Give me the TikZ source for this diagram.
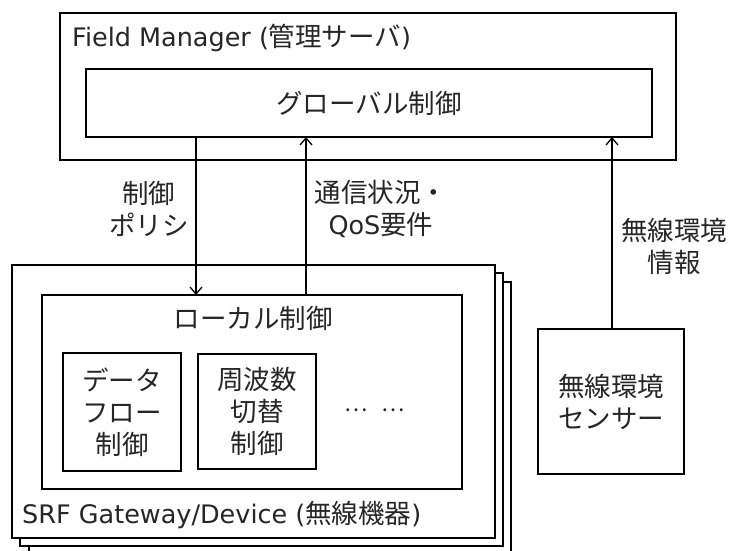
\documentclass[tikz,border=0pt]{standalone}
\usepackage{fontspec}
\setmainfont{DejaVu Sans}
\newfontfamily\jp{Noto Sans CJK JP}
\usetikzlibrary{arrows.meta}
\begin{document}
\begin{tikzpicture}[x=1pt,y=-1pt,
 box/.style={draw=black, line width=1.5pt, fill=white, inner sep=0pt, outer sep=0pt},
 txt/.style={text=black!85, font=\fontsize{25.5}{32}\selectfont, align=center, inner sep=0pt},
 jtxt/.style={text=black!85, font=\jp\fontsize{26.5}{32}\selectfont, align=center, inner sep=0pt},
 arr/.style={line width=1.3pt, -{Straight Barb[length=7pt,width=12pt,line width=1.3pt]}}]
\useasboundingbox (0,0) rectangle (729,551);

% Field Manager
\node[box, minimum width=616pt, minimum height=147pt] (fm) at (368,86.5) {};
\node[txt, anchor=west] (fmt) at (72,38) {Field Manager ({\jp\fontsize{26.5}{32}\selectfont 管理サーバ})};
\node[box, jtxt, minimum width=566pt, minimum height=68pt] (gc) at (369,103) {グローバル制御};

% SRF stack
\node[box, minimum width=482pt, minimum height=288pt] (b3) at (270,426) {};
\node[box, minimum width=483pt, minimum height=273pt] (b2) at (261.5,409.5) {};
\node[box, minimum width=483pt, minimum height=273pt] (srf) at (253.5,401.5) {};
\node[txt, anchor=west] (srft) at (22,515) {SRF Gateway/Device ({\jp\fontsize{26.5}{32}\selectfont 無線機器})};

\node[box, minimum width=420pt, minimum height=194pt] (loc) at (252,392) {};
\node[jtxt] (loct) at (253,318) {ローカル制御};
\node[box, jtxt, minimum width=118pt, minimum height=118pt] (df) at (122,412) {データ\\フロー\\制御};
\node[box, jtxt, minimum width=118pt, minimum height=115pt] (fq) at (257,411.5) {周波数\\切替\\制御};
\node[jtxt, font=\jp\fontsize{22}{26}\selectfont] (dots) at (375,410) {…\hspace{14pt}…};

% Sensor
\node[box, jtxt, minimum width=146pt, minimum height=145pt] (sen) at (611,401.5) {無線環境\\センサー};

% arrows
\coordinate (xa) at (196,0);
\coordinate (xb) at (306,0);
\coordinate (xc) at (612,0);
\draw[arr] (gc.south -| xa) -- (loc.north -| xa);
\draw[arr] (loc.north -| xb) -- (gc.south -| xb);
\draw[arr] (sen.north -| xc) -- (gc.south -| xc);

% labels
\node[jtxt] (l1) at (149,208.5) {制御\\ポリシ};
\node[txt] (l2) at (381,209) {{\jp\fontsize{26.5}{32}\selectfont 通信状況・}\\QoS{\jp\fontsize{26.5}{32}\selectfont 要件}};
\node[jtxt] (l3) at (674,246) {無線環境\\情報};
\end{tikzpicture}
\end{document}
